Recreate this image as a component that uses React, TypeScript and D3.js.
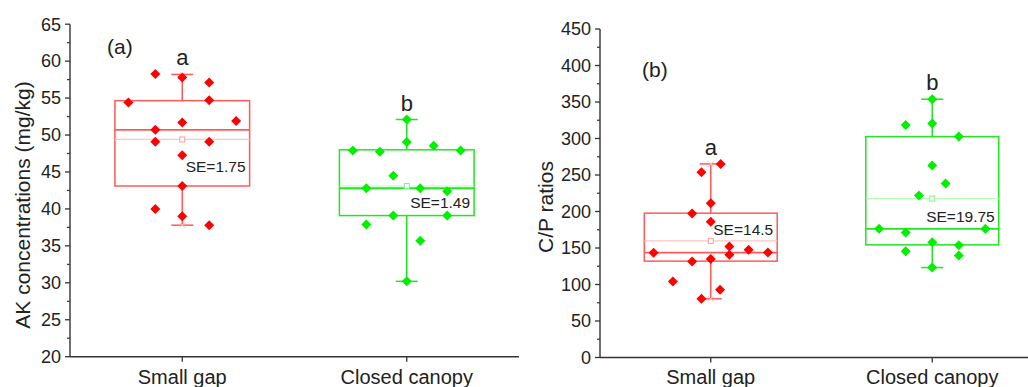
import React from "react";
import * as d3 from "d3";

// ---------- data ----------
const categories = ["Small gap", "Closed canopy"];

// Panel (a): AK concentrations (mg/kg)
const akSmallGap = [58.25, 57.8, 57.1, 54.4, 54.7, 51.7, 51.9, 50.7, 49.1, 49.1, 47.25, 43.1, 40.0, 39.0, 37.8];
const akSmallGapJitter = [-0.2, 0, 0.2, -0.4, 0.2, 0, 0.4, -0.2, -0.2, 0.2, 0, 0, -0.2, 0, 0.2];
const akClosed = [52.1, 49.05, 48.55, 47.9, 47.75, 47.9, 44.5, 42.8, 42.8, 42.4, 39.1, 39.1, 37.9, 35.7, 30.2];
const akClosedJitter = [0, 0, 0.2, -0.4, -0.2, 0.4, -0.1, -0.3, 0.1, 0.3, -0.1, 0.3, -0.3, 0.1, 0];
// [whisker low, Q1, median, Q3, whisker high]
const akBoxSmallGap = [37.8, 43.1, 50.7, 54.65, 58.2];
const akBoxClosed = [30.2, 39.1, 42.8, 48.0, 52.1];
const akMeans = [49.4, 43.1];
const akSE = ["SE=1.75", "SE=1.49"];
const akSELabelY = [44.95, 40.1];
const akLetters = ["a", "b"];
const akTicks = [20, 25, 30, 35, 40, 45, 50, 55, 60, 65];

// Panel (b): C/P ratios
const cpSmallGap = [265, 253.8, 211.4, 197.2, 185.8, 152, 147.5, 143.4, 143.8, 140.6, 131.5, 135.1, 104, 92.7, 80.4];
const cpSmallGapJitter = [0.075, -0.07, 0, -0.14, 0, 0.14, 0.285, -0.43, 0.43, 0.14, -0.14, 0, -0.285, 0.07, -0.07];
const cpClosed = [353.8, 318.6, 320.4, 302.6, 262.9, 238.2, 221.8, 176.2, 176.2, 171.1, 158, 153.9, 145.7, 139.7, 123.2];
const cpClosedJitter = [0, -0.2, 0, 0.2, 0, 0.1, -0.1, -0.4, 0.4, -0.2, 0, 0.2, -0.2, 0.2, 0];
const cpBoxSmallGap = [80.4, 132, 143.8, 197.7, 265.2];
const cpBoxClosed = [123.2, 154.3, 176.2, 302.6, 353.8];
const cpMeans = [159.8, 217.7];
const cpSE = ["SE=14.5", "SE=19.75"];
const cpSELabelY = [168, 186.2];
const cpLetters = ["a", "b"];
const cpTicks = [0, 50, 100, 150, 200, 250, 300, 350, 400, 450];

// ---------- styles ----------
const FONT = "'Liberation Sans', Arial, sans-serif";
const TEXT = "#222";
const AXIS = "#333";
const groupStyle = [
  { point: "#ff0000", box: "#ff5a5a", mean: "#ffc4c4", marker: "#ff9a9a" },
  { point: "#00f000", box: "#22e622", mean: "#b8ffb8", marker: "#88ee88" },
];

interface Group {
  values: number[];
  jitter: number[];
  box: number[];
  mean: number;
  se: string;
  seY: number;
  letter: string;
}

interface PanelDef {
  label: string;
  title: string;
  domain: [number, number];
  ticks: number[];
  minorStep: number;
  yRange: [number, number];
  xRange: [number, number];
  axisX: number;
  titleX: number;
  titleY: number;
  labelPos: [number, number];
  groups: Group[];
}

const panels: PanelDef[] = [
  {
    label: "(a)",
    title: "AK concentrations (mg/kg)",
    domain: [20, 65],
    ticks: akTicks,
    minorStep: 2.5,
    yRange: [356.7, 24.2],
    xRange: [70, 519],
    axisX: 70,
    titleX: 30,
    titleY: 205,
    labelPos: [107, 54],
    groups: [
      { values: akSmallGap, jitter: akSmallGapJitter, box: akBoxSmallGap, mean: akMeans[0], se: akSE[0], seY: akSELabelY[0], letter: akLetters[0] },
      { values: akClosed, jitter: akClosedJitter, box: akBoxClosed, mean: akMeans[1], se: akSE[1], seY: akSELabelY[1], letter: akLetters[1] },
    ],
  },
  {
    label: "(b)",
    title: "C/P ratios",
    domain: [0, 450],
    ticks: cpTicks,
    minorStep: 25,
    yRange: [357.5, 29],
    xRange: [600, 1043],
    axisX: 600,
    titleX: 553,
    titleY: 207,
    labelPos: [642, 77],
    groups: [
      { values: cpSmallGap, jitter: cpSmallGapJitter, box: cpBoxSmallGap, mean: cpMeans[0], se: cpSE[0], seY: cpSELabelY[0], letter: cpLetters[0] },
      { values: cpClosed, jitter: cpClosedJitter, box: cpBoxClosed, mean: cpMeans[1], se: cpSE[1], seY: cpSELabelY[1], letter: cpLetters[1] },
    ],
  },
];

function Panel({ p }: { p: PanelDef }) {
  const y = d3.scaleLinear().domain(p.domain).range(p.yRange);
  const x = d3.scalePoint<string>().domain(categories).range(p.xRange).padding(0.5);
  const step = x.step();
  const boxW = step * 0.6;
  const capW = 22;
  const minors = d3.range(p.domain[0], p.domain[1] + 0.001, p.minorStep).filter((v) => !p.ticks.includes(v));
  const diamond = (cx: number, cy: number, r: number) =>
    `M${cx},${cy - r}L${cx + r},${cy}L${cx},${cy + r}L${cx - r},${cy}Z`;

  return (
    <g>
      {/* y axis */}
      <line x1={p.axisX} x2={p.axisX} y1={y(p.domain[0])} y2={y(p.domain[1])} stroke={AXIS} strokeWidth={1.4} />
      {p.ticks.map((t) => (
        <g key={"t" + t}>
          <line x1={p.axisX - 5} x2={p.axisX} y1={y(t)} y2={y(t)} stroke={AXIS} strokeWidth={1.3} />
          <text x={p.axisX - 9} y={y(t)} dy="0.35em" textAnchor="end" fontSize={18} fontFamily={FONT} fill={TEXT}>
            {t}
          </text>
        </g>
      ))}
      {minors.map((t) => (
        <line key={"m" + t} x1={p.axisX - 3} x2={p.axisX} y1={y(t)} y2={y(t)} stroke={AXIS} strokeWidth={1.2} />
      ))}
      {/* x axis */}
      <line x1={p.xRange[0]} x2={p.xRange[1]} y1={y(p.domain[0])} y2={y(p.domain[0])} stroke={AXIS} strokeWidth={1.4} />
      {categories.map((c) => (
        <g key={c}>
          <line x1={x(c)} x2={x(c)} y1={y(p.domain[0])} y2={y(p.domain[0]) + 5} stroke={AXIS} strokeWidth={1.3} />
          <text x={x(c)} y={384} textAnchor="middle" fontSize={20} fontFamily={FONT} fill={TEXT}>
            {c}
          </text>
        </g>
      ))}
      {/* y title */}
      <text
        transform={`translate(${p.titleX},${p.titleY}) rotate(-90)`}
        textAnchor="middle"
        fontSize={21}
        fontFamily={FONT}
        fill={TEXT}
      >
        {p.title}
      </text>
      <text x={p.labelPos[0]} y={p.labelPos[1]} fontSize={21} fontFamily={FONT} fill={TEXT}>
        {p.label}
      </text>
      {/* boxes */}
      {p.groups.map((g, i) => {
        const cx = x(categories[i]) as number;
        const st = groupStyle[i];
        const [lo, q1, med, q3, hi] = g.box;
        return (
          <g key={"b" + i}>
            <line x1={cx} x2={cx} y1={y(hi)} y2={y(q3)} stroke={st.box} strokeWidth={1.5} />
            <line x1={cx} x2={cx} y1={y(q1)} y2={y(lo)} stroke={st.box} strokeWidth={1.5} />
            <line x1={cx - capW / 2} x2={cx + capW / 2} y1={y(hi)} y2={y(hi)} stroke={st.box} strokeWidth={1.5} />
            <line x1={cx - capW / 2} x2={cx + capW / 2} y1={y(lo)} y2={y(lo)} stroke={st.box} strokeWidth={1.5} />
            {[hi, lo].map((v, k) => (
              <path
                key={k}
                d={`M${cx - 3},${y(v) - 3}L${cx + 3},${y(v) + 3}M${cx - 3},${y(v) + 3}L${cx + 3},${y(v) - 3}`}
                stroke={st.mean}
                strokeWidth={1}
              />
            ))}
            <rect x={cx - boxW / 2} y={y(q3)} width={boxW} height={y(q1) - y(q3)} fill="none" stroke={st.box} strokeWidth={1.5} />
            <line x1={cx - boxW / 2} x2={cx + boxW / 2} y1={y(g.mean)} y2={y(g.mean)} stroke={st.mean} strokeWidth={1.2} />
            <line x1={cx - boxW / 2} x2={cx + boxW / 2} y1={y(med)} y2={y(med)} stroke={st.box} strokeWidth={1.8} />
            <rect x={cx - 2.5} y={y(g.mean) - 2.5} width={5} height={5} fill="white" stroke={st.marker} strokeWidth={1} />
            {g.values.map((v, k) => (
              <path key={"p" + k} d={diamond(cx + g.jitter[k] * boxW, y(v), 5)} fill={st.point} />
            ))}
            <text x={cx + boxW / 2 - 4} y={y(g.seY)} textAnchor="end" fontSize={15.5} fontFamily={FONT} fill={TEXT}>
              {g.se}
            </text>
            <text x={cx} y={y(hi) - 9} textAnchor="middle" fontSize={22} fontFamily={FONT} fill={TEXT}>
              {g.letter}
            </text>
          </g>
        );
      })}
    </g>
  );
}

export default function App() {
  return (
    <svg
      width={1028}
      height={387}
      viewBox="0 0 1028 387"
      style={{ position: "absolute", left: 0, top: 0, background: "#fff", display: "block" }}
    >
      <rect width={1028} height={387} fill="#fff" />
      {panels.map((p) => (
        <Panel key={p.label} p={p} />
      ))}
    </svg>
  );
}
